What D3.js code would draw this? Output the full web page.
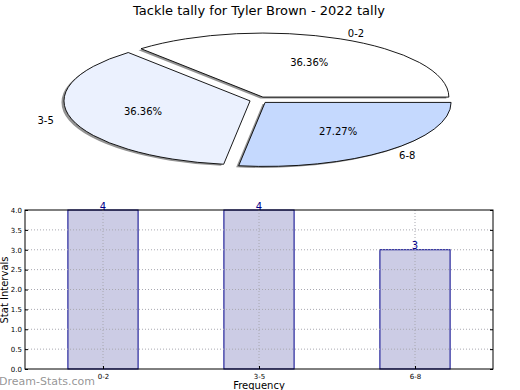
<!DOCTYPE html>
<html><head><meta charset="utf-8">
<script src="https://cdn.jsdelivr.net/npm/d3@7"></script>
<style>body{margin:0;background:#fff;} svg{display:block;font-family:"DejaVu Sans",sans-serif;}</style>
</head><body>
<svg id="c" width="520" height="390"></svg>
<script>
const categories = ["0-2", "3-5", "6-8"];
const values = [4, 4, 3];
const pieColors = ["#ffffff", "#ebf1fe", "#c5d9fe"];
const yTicks = [0, 0.5, 1, 1.5, 2, 2.5, 3, 3.5, 4];
const title = "Tackle tally for Tyler Brown - 2022 tally";

const svg = d3.select("#c");
svg.append("text").attr("x", 259).attr("y", 15).attr("text-anchor", "middle")
  .attr("font-size", 13).attr("fill", "#000").text(title);

// ---- Pie (matplotlib-like, squashed ellipse) ----
const cx = 259, cy = 100, rx = 186, ry = 64, explode = 0.05;
const total = d3.sum(values);
const pie = d3.pie().sort(null).startAngle(0).endAngle(2 * Math.PI)(values);
const arcUnit = d3.arc().innerRadius(0).outerRadius(1);
const gPie = svg.append("g");
function sliceAngles(d) { return { startAngle: Math.PI / 2 - d.endAngle, endAngle: Math.PI / 2 - d.startAngle }; }
const slices = pie.map((d, i) => {
  const mid = (d.startAngle + d.endAngle) / 2;
  const ox = cx + explode * rx * Math.cos(mid);
  const oy = cy - explode * ry * Math.sin(mid);
  return { d, i, mid, ox, oy };
});
// shadows
slices.forEach(s => {
  gPie.append("path").attr("d", arcUnit(sliceAngles(s.d)))
    .attr("transform", `translate(${s.ox - 2.5},${s.oy + 1.5}) scale(${rx},${ry})`)
    .attr("fill", "#808080").attr("fill-opacity", 0.85);
});
slices.forEach(s => {
  gPie.append("path").attr("d", arcUnit(sliceAngles(s.d)))
    .attr("transform", `translate(${s.ox},${s.oy}) scale(${rx},${ry})`)
    .attr("fill", pieColors[s.i]).attr("stroke", "#000").attr("stroke-width", 0.9)
    .attr("vector-effect", "non-scaling-stroke").attr("stroke-linejoin", "miter");
});
slices.forEach(s => {
  const c = Math.cos(s.mid), sn = Math.sin(s.mid);
  gPie.append("text").attr("x", s.ox + 1.1 * rx * c).attr("y", s.oy - 1.1 * ry * sn)
    .attr("dy", "0.35em").attr("text-anchor", c > 0 ? "start" : "end")
    .attr("font-size", 10).text(categories[s.i]);
  gPie.append("text").attr("x", s.ox + 0.6 * rx * c).attr("y", s.oy - 0.6 * ry * sn)
    .attr("dy", "0.35em").attr("text-anchor", "middle")
    .attr("font-size", 10).text((values[s.i] / total * 100).toFixed(2) + "%");
});

// ---- Bar chart ----
const L = 25, R = 493, T = 210, B = 369;
const x = d3.scaleLinear().domain([-0.5, categories.length - 0.5]).range([L, R]);
const y = d3.scaleLinear().domain([0, 4]).range([B, T]);
const barW = 0.45;
const g = svg.append("g");
// bars
g.selectAll(".bar").data(values).join("rect")
  .attr("x", (d, i) => x(i - barW / 2)).attr("width", x(barW) - x(0))
  .attr("y", d => y(d)).attr("height", d => y(0) - y(d))
  .attr("fill", "#ccccE5").attr("stroke", "#00008b").attr("stroke-width", 1);
// grid (visible over bars)
g.selectAll(".gx").data(categories).join("line")
  .attr("x1", (d, i) => x(i)).attr("x2", (d, i) => x(i)).attr("y1", T).attr("y2", B)
  .attr("stroke", "#a8a8b0").attr("stroke-width", 1).attr("stroke-dasharray", "1,2");
g.selectAll(".gy").data(yTicks.slice(1, -1)).join("line")
  .attr("x1", L).attr("x2", R).attr("y1", d => y(d)).attr("y2", d => y(d))
  .attr("stroke", "#a8a8b0").attr("stroke-width", 1).attr("stroke-dasharray", "1,2");
// value labels
g.selectAll(".vl").data(values).join("text")
  .attr("x", (d, i) => x(i)).attr("y", d => y(d) - 0.5).attr("text-anchor", "middle")
  .attr("font-size", 10).attr("fill", "#00008b").text(d => d);
// frame
g.append("rect").attr("x", L).attr("y", T).attr("width", R - L).attr("height", B - T)
  .attr("fill", "none").attr("stroke", "#000").attr("stroke-width", 1);
// axes
const yAxis = d3.axisLeft(y).tickValues(yTicks).tickFormat(d3.format(".1f")).tickSize(-3).tickPadding(3);
const ya = g.append("g").attr("transform", `translate(${L},0)`).call(yAxis);
ya.select(".domain").remove();
ya.selectAll("text").attr("font-size", 7).attr("font-family", "DejaVu Sans");
const yAxisR = d3.axisRight(y).tickValues(yTicks).tickFormat("").tickSize(-3);
const yr = g.append("g").attr("transform", `translate(${R},0)`).call(yAxisR);
yr.select(".domain").remove();
const xAxis = d3.axisBottom(x).tickValues(d3.range(categories.length)).tickFormat(i => categories[i]).tickSize(-3).tickPadding(5);
const xa = g.append("g").attr("transform", `translate(0,${B})`).call(xAxis);
xa.select(".domain").remove();
xa.selectAll("text").attr("font-size", 7).attr("font-family", "DejaVu Sans");
// axis titles
svg.append("text").attr("transform", "translate(8,290) rotate(-90)").attr("text-anchor", "middle")
  .attr("font-size", 10).text("Stat Intervals");
svg.append("text").attr("x", 259).attr("y", 389).attr("text-anchor", "middle")
  .attr("font-size", 10).text("Frequency");
// watermark
svg.append("text").attr("x", -1).attr("y", 385).attr("font-size", 11)
  .attr("fill", "#8a8a8a").attr("fill-opacity", 0.9).text("Dream-Stats.com");
</script>
</body></html>
